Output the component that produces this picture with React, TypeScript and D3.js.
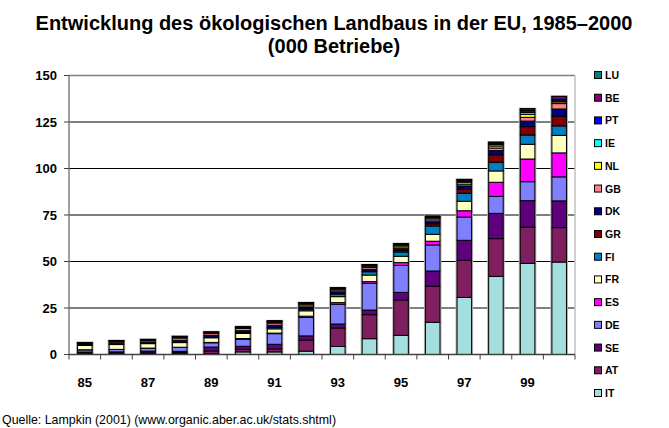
import React from "react";
import * as d3 from "d3";

const years = ["85","86","87","88","89","90","91","92","93","94","95","96","97","98","99","00"];
const xTickLabels = ["85","87","89","91","93","95","97","99"];
const yTicks = [0, 25, 50, 75, 100, 125, 150];

const IT = [0.3,0.3,0.4,0.5,0.5,1.4,1.4,1.8,4.3,8.5,10.3,17.3,30.7,42.0,49.0,49.7];
const AT = [0.4,0.4,0.5,0.6,1.4,1.4,1.6,5.9,9.9,12.9,19.0,19.4,19.9,20.3,19.5,18.5];
const SE = [0.6,0.7,0.9,0.6,2.1,1.6,2.5,2.3,2.2,2.5,4.1,8.2,10.8,13.6,14.2,14.4];
const DE = [1.2,1.3,1.6,2.1,2.3,3.8,5.7,9.9,10.6,14.4,14.5,14.0,12.5,9.1,10.2,12.9];
const ES = [0.05,0.05,0.05,0.1,0.2,0.4,0.3,0.7,0.9,0.9,1.5,2.0,3.4,7.6,12.2,12.9];
const FR = [2.3,2.6,2.4,2.5,2.5,2.7,2.3,2.9,3.2,3.5,3.4,3.7,5.1,6.1,7.9,9.4];
const FI = [0.05,0.05,0.05,0.1,0.3,0.5,0.7,0.9,1.4,1.8,2.3,4.5,4.3,4.6,5.0,5.1];
const GR = [0,0,0,0.05,0.05,0.1,0.1,0.2,0.3,0.4,0.8,1.2,2.1,4.1,4.5,5.2];
const DK = [0.5,0.7,0.7,1.1,1.0,0.9,1.1,1.0,0.9,0.9,1.0,1.1,1.8,2.2,3.0,3.9];
const GB = [0.5,0.7,0.8,1.2,1.0,1.2,1.2,1.1,1.0,1.0,1.0,1.0,1.0,1.4,2.0,2.9];
const NL = [0.4,0.5,0.5,0.6,0.5,0.5,0.6,0.6,0.6,0.7,0.8,0.9,1.0,1.1,1.6,0.9];
const IE = [0.05,0.05,0.05,0.1,0.1,0.2,0.2,0.2,0.2,0.3,0.3,0.4,0.6,0.8,1.0,0.6];
const PT = [0,0.05,0.05,0.05,0.05,0.1,0.2,0.2,0.2,0.3,0.3,0.4,0.5,0.7,1.0,0.8];
const BE = [0.1,0.1,0.15,0.2,0.2,0.2,0.2,0.2,0.2,0.2,0.3,0.3,0.4,0.5,1.0,1.5];
const LU = [0,0,0,0,0,0,0.01,0.01,0.01,0.01,0.02,0.02,0.03,0.05,0.05,0.1];

const seriesNames = ["IT","AT","SE","DE","ES","FR","FI","GR","DK","GB","NL","IE","PT","BE","LU"];
const seriesValues = [IT, AT, SE, DE, ES, FR, FI, GR, DK, GB, NL, IE, PT, BE, LU];
const seriesColors = [
  "#A4DEDE", "#7F1F5F", "#5F007F", "#8080FF", "#FF00FF", "#FFFFC0", "#0080C0",
  "#800000", "#000080", "#FF8080", "#FFFF00", "#00FFFF", "#0000FF", "#800080", "#008080",
];

const W = 669, H = 428;
const M = { left: 69, right: 575, top: 75.5, bottom: 354.5 };
const FONT = "'Liberation Sans', Arial, sans-serif";

export default function App() {
  const rows = years.map((y, i) => {
    const r: Record<string, any> = { year: y };
    seriesNames.forEach((n, k) => (r[n] = seriesValues[k][i]));
    return r;
  });
  const stack = d3.stack<any>().keys(seriesNames)(rows);

  const x = d3.scaleBand<string>().domain(years).range([M.left, M.right]).paddingInner(0.54).paddingOuter(0.27);
  const xb = d3.scaleBand<string>().domain(years).range([M.left, M.right]);
  const y = d3.scaleLinear().domain([0, 150]).range([M.bottom, M.top]);

  const legendY = d3.scalePoint<string>().domain([...seriesNames].reverse()).range([75, 393]);

  return (
    <svg width={W} height={H} style={{ position: "absolute", left: 0, top: 0, background: "#fff" }} fontFamily={FONT}>
      <rect x={0} y={0} width={W} height={H} fill="#fff" />
      <text x={334} y={30} textAnchor="middle" fontSize={20} fontWeight="bold" fill="#000">
        Entwicklung des ökologischen Landbaus in der EU, 1985–2000
      </text>
      <text x={334} y={52.5} textAnchor="middle" fontSize={20} fontWeight="bold" fill="#000">
        (000 Betriebe)
      </text>

      {/* gridlines */}
      {yTicks.filter(t => t > 0 && t < 150).map(t => (
        <line key={t} x1={M.left} x2={M.right} y1={y(t)} y2={y(t)} stroke="#000" strokeWidth={1} />
      ))}
      <line x1={M.left} x2={M.right} y1={y(150)} y2={y(150)} stroke="#808080" strokeWidth={1.5} />
      <line x1={M.right} x2={M.right} y1={M.top} y2={M.bottom} stroke="#c0c0c0" strokeWidth={1.5} />

      {/* bar shadows */}
      {years.map((yr, i) => {
        const top = stack[stack.length - 1][i][1];
        return (
          <rect key={"s" + yr} x={x(yr)! - 1.5} y={y(top) - 1} width={x.bandwidth() + 3}
            height={y(0) - y(top) + 1} fill="#b0b0b0" />
        );
      })}

      {/* bars */}
      {stack.map((s, k) => (
        <g key={seriesNames[k]} fill={seriesColors[k]} stroke="#000" strokeWidth={1}>
          {s.map((d, i) => (
            d[1] - d[0] > 0 ? (
              <rect key={i} x={x(years[i])} y={y(d[1])} width={x.bandwidth()} height={y(d[0]) - y(d[1])} />
            ) : null
          ))}
        </g>
      ))}

      {/* axes */}
      <line x1={M.left} x2={M.left} y1={M.top} y2={M.bottom} stroke="#808080" strokeWidth={1.5} />
      <line x1={M.left} x2={M.right} y1={M.bottom} y2={M.bottom} stroke="#404040" strokeWidth={1.5} />
      {yTicks.map(t => (
        <g key={"yt" + t}>
          <line x1={M.left - 5} x2={M.left} y1={y(t)} y2={y(t)} stroke="#404040" strokeWidth={1} />
          <text x={57} y={y(t) + 4.5} textAnchor="end" fontSize={13} fontWeight="bold">{t}</text>
        </g>
      ))}
      {years.map((yr) => (
        <line key={"xt" + yr} x1={xb(yr)!} x2={xb(yr)!} y1={M.bottom} y2={M.bottom + 5} stroke="#404040" strokeWidth={1} />
      ))}
      <line x1={M.right} x2={M.right} y1={M.bottom} y2={M.bottom + 5} stroke="#404040" strokeWidth={1} />
      {xTickLabels.map(l => (
        <text key={"xl" + l} x={xb(l)! + xb.bandwidth() / 2} y={387} textAnchor="middle" fontSize={13} fontWeight="bold">{l}</text>
      ))}

      {/* legend */}
      {seriesNames.map((n, k) => (
        <g key={"lg" + n}>
          <rect x={594.5} y={legendY(n)! - 3.5} width={7} height={7} fill={seriesColors[k]} stroke="#000" strokeWidth={1} />
          <text x={605} y={legendY(n)! + 4} fontSize={10.5} fontWeight="bold">{n}</text>
        </g>
      ))}

      <text x={2} y={424} fontSize={12.4} fill="#000">Quelle: Lampkin (2001) (www.organic.aber.ac.uk/stats.shtml)</text>
    </svg>
  );
}
